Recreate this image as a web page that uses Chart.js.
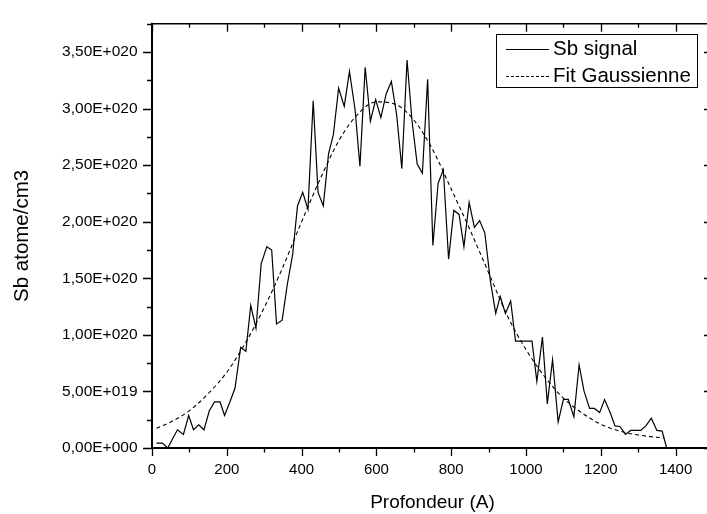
<!DOCTYPE html>
<html>
<head>
<meta charset="utf-8">
<script src="https://cdn.jsdelivr.net/npm/chart.js@4.4.0/dist/chart.umd.min.js"></script>
<style>
  html, body { margin: 0; padding: 0; background: #fff; overflow: hidden; }
  #wrap { width: 707px; height: 514px; overflow: hidden; }
  canvas { display: block; }
</style>
</head>
<body>
<div id="wrap"><canvas id="profil" width="722" height="514"></canvas></div>
<script>
// SIMS depth profile, Sb concentration in units of 1E+020 atome/cm3
const depth = [12, 28, 42, 68, 84, 98, 111, 125, 139, 153, 167, 182, 194, 209, 222, 237, 251, 264, 278, 292,
               307, 320, 333, 348, 362, 376, 389, 403, 417, 431, 444, 458, 472, 485, 499, 514, 528, 543, 556, 570,
               584, 598, 612, 626, 640, 654, 668, 682, 695, 709, 723, 737, 751, 765, 779, 793, 807, 821, 834, 848,
               862, 876, 890, 905, 919, 931, 945, 959, 972, 987, 1002, 1016, 1029, 1044, 1057, 1071, 1086, 1100, 1113, 1128,
               1142, 1155, 1170, 1183, 1197, 1210, 1225, 1238, 1251, 1266, 1280, 1293, 1307, 1321, 1335, 1350, 1364, 1376];
const sbSignal = [0.043, 0.043, 0.0, 0.161, 0.12, 0.287, 0.161, 0.204, 0.161, 0.327, 0.407, 0.407, 0.287, 0.413, 0.53, 0.89, 0.855, 1.26, 1.057, 1.63,
                  1.78, 1.75, 1.096, 1.13, 1.45, 1.71, 2.14, 2.26, 2.11, 3.07, 2.26, 2.14, 2.60, 2.77, 3.18, 3.02, 3.33, 2.99, 2.49, 3.365,
                  2.89, 3.08, 2.92, 3.13, 3.24, 2.95, 2.47, 3.43, 2.90, 2.51, 2.43, 3.26, 1.79, 2.34, 2.46, 1.67, 2.10, 2.065, 1.78, 2.17,
                  1.95, 2.01, 1.90, 1.47, 1.19, 1.34, 1.19, 1.30, 0.945, 0.945, 0.945, 0.945, 0.59, 0.98, 0.39, 0.78, 0.23, 0.43, 0.43, 0.276,
                  0.735, 0.505, 0.35, 0.35, 0.313, 0.428, 0.313, 0.195, 0.19, 0.12, 0.155, 0.155, 0.155, 0.198, 0.264, 0.155, 0.149, 0.0];

const fitDepth = [12, 50, 100, 150, 200, 250, 300, 350, 400, 450, 500, 550, 600, 650, 700,
                  750, 800, 850, 900, 950, 1000, 1050, 1100, 1150, 1200, 1250, 1300, 1350, 1370];
const fitGauss = [0.175, 0.23, 0.33, 0.48, 0.67, 0.93, 1.24, 1.60, 2.00, 2.38, 2.72, 2.95, 3.06, 3.04, 2.90,
                  2.64, 2.29, 1.93, 1.55, 1.17, 0.87, 0.63, 0.44, 0.31, 0.21, 0.15, 0.115, 0.095, 0.09];

const xTicks = [0, 200, 400, 600, 800, 1000, 1200, 1400];
const xTickLabels = ['0', '200', '400', '600', '800', '1000', '1200', '1400'];
const yTicks = [0, 0.5, 1.0, 1.5, 2.0, 2.5, 3.0, 3.5];
const yTickLabels = ['0,00E+000', '5,00E+019', '1,00E+020', '1,50E+020', '2,00E+020', '2,50E+020', '3,00E+020', '3,50E+020'];

const E20 = 1e20;
const FONT = 'Liberation Sans, Arial, sans-serif';

// frame, ticks (major + minor) and the boxed legend
const framePlugin = {
  id: 'frame',
  afterDraw(chart) {
    const { ctx, chartArea: a, scales } = chart;
    const xs = scales.x, ys = scales.y;
    ctx.save();
    ctx.strokeStyle = '#000';

    ctx.lineWidth = 1.6;
    ctx.beginPath();
    ctx.moveTo(a.left, a.top); ctx.lineTo(a.right, a.top);
    ctx.moveTo(a.right, a.top); ctx.lineTo(a.right, a.bottom);
    ctx.stroke();
    ctx.lineWidth = 2;
    ctx.beginPath();
    ctx.moveTo(a.left, a.top - 1); ctx.lineTo(a.left, a.bottom + 1);
    ctx.moveTo(a.left - 1, a.bottom); ctx.lineTo(a.right, a.bottom);
    ctx.stroke();

    ctx.lineWidth = 1.3;
    ctx.beginPath();
    for (let v = 0; v <= 1500; v += 100) {
      const px = Math.round(xs.getPixelForValue(v)) + 0.5;
      const major = v % 200 === 0;
      ctx.moveTo(px, a.bottom); ctx.lineTo(px, a.bottom + (major ? 8 : 4.5));
      ctx.moveTo(px, a.top); ctx.lineTo(px, a.top + (major ? 8 : 4));
    }
    for (let i = 0; i <= 15; i++) {
      const v = i * 0.25 * E20;
      const py = Math.round(ys.getPixelForValue(v)) + 0.5;
      const major = i % 2 === 0;
      ctx.moveTo(a.left, py); ctx.lineTo(a.left - (major ? 9 : 5), py);
      ctx.moveTo(a.right, py); ctx.lineTo(a.right - (major ? 9 : 5), py);
    }
    ctx.stroke();

    // legend
    const sets = chart.data.datasets;
    ctx.lineWidth = 1;
    ctx.strokeRect(496.5, 34.5, 201, 53);
    ctx.font = '20.5px ' + FONT;
    ctx.fillStyle = '#000';
    ctx.textBaseline = 'middle';
    const rows = [49.5, 76.5];
    sets.forEach((ds, i) => {
      ctx.setLineDash(ds.borderDash ? [3, 2] : []);
      ctx.lineWidth = 1;
      ctx.beginPath();
      ctx.moveTo(506, rows[i]); ctx.lineTo(549, rows[i]);
      ctx.stroke();
      ctx.setLineDash([]);
      ctx.fillText(ds.label, 553, rows[i] - 0.5);
    });
    ctx.restore();
  }
};

new Chart(document.getElementById('profil'), {
  type: 'line',
  data: {
    datasets: [
      {
        label: 'Sb signal',
        data: depth.map((d, i) => ({ x: d, y: sbSignal[i] * E20 })),
        borderColor: '#000',
        borderWidth: 1.2,
        pointRadius: 0,
        tension: 0
      },
      {
        label: 'Fit Gaussienne',
        data: fitDepth.map((d, i) => ({ x: d, y: fitGauss[i] * E20 })),
        borderColor: '#000',
        borderWidth: 1.1,
        borderDash: [4, 3],
        pointRadius: 0,
        cubicInterpolationMode: 'monotone'
      }
    ]
  },
  options: {
    responsive: false,
    animation: false,
    layout: { padding: { top: 12, right: 9, left: 0, bottom: 0 } },
    plugins: { legend: { display: false }, tooltip: { enabled: false } },
    scales: {
      x: {
        type: 'linear',
        min: 0,
        max: 1500,
        grid: { display: false, drawTicks: false },
        border: { display: false },
        afterBuildTicks: s => { s.ticks = xTicks.map(v => ({ value: v })); },
        afterFit: s => { s.height = 66; },
        ticks: {
          color: '#000', padding: 13, maxRotation: 0, font: { family: FONT, size: 15 },
          callback: (v, i) => xTickLabels[i]
        },
        title: {
          display: true, text: 'Profondeur (A)', color: '#000',
          padding: { top: 0, bottom: 0 }, font: { family: FONT, size: 19 }
        }
      },
      y: {
        min: 0,
        max: 3.75 * E20,
        grid: { display: false, drawTicks: false },
        border: { display: false },
        afterBuildTicks: s => { s.ticks = yTicks.map(v => ({ value: v * E20 })); },
        afterFit: s => { s.width = 152; },
        ticks: {
          color: '#000', padding: 14.5, font: { family: FONT, size: 15.5 },
          callback: (v, i) => yTickLabels[i]
        },
        title: {
          display: true, text: 'Sb atome/cm3', color: '#000',
          padding: { top: 10, bottom: 0 }, font: { family: FONT, size: 20.5 }
        }
      }
    }
  },
  plugins: [framePlugin]
});
</script>
</body>
</html>
